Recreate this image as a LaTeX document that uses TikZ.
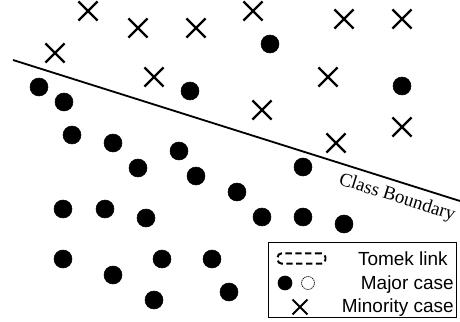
\documentclass[tikz,border=0pt]{standalone}
\usepackage{fontspec}
\setmainfont{Liberation Serif}
\setsansfont{Liberation Sans}
\usetikzlibrary{shapes.misc}

\begin{document}
\begin{tikzpicture}[x=0.025cm,y=-0.025cm,
  major/.style={black,fill=black},
  minority/.style={cross out,draw=black,line width=1.6pt,inner sep=0pt,minimum size=0.42cm},
  keytext/.style={font=\sffamily\fontsize{13.5}{16}\selectfont,anchor=base east,inner sep=0pt}]

\useasboundingbox (0,0) rectangle (460,322);

% class boundary
\draw[line width=1.3pt] (13,60) -- (460,201);
\node[font=\fontsize{13.5}{16}\selectfont,rotate=-17.5] (boundary) at (397,198) {Class Boundary};

% minority cases
\node[minority] (c1) at (88,11) {};
\node[minority] (c2) at (138,28) {};
\node[minority] (c3) at (196,28) {};
\node[minority] (c4) at (253,11) {};
\node[minority] (c5) at (344,19) {};
\node[minority] (c6) at (402,19) {};
\node[minority] (c7) at (55,53) {};
\node[minority] (c8) at (154,77) {};
\node[minority] (c9) at (328,77) {};
\node[minority] (c10) at (262,110) {};
\node[minority] (c11) at (402,127) {};
\node[minority] (c12) at (336,143) {};

% major cases
\draw[major] (270,44)  circle (6.4pt);
\draw[major] (190,91)  circle (6.4pt);
\draw[major] (402,86)  circle (6.4pt);
\draw[major] (39,87)   circle (6.4pt);
\draw[major] (64,102)  circle (6.4pt);

\draw[major] (72,135)  circle (6.4pt);
\draw[major] (113,143) circle (6.4pt);
\draw[major] (179,151) circle (6.4pt);
\draw[major] (138,168) circle (6.4pt);
\draw[major] (196,176) circle (6.4pt);
\draw[major] (237,192) circle (6.4pt);
\draw[major] (303,167) circle (6.4pt);

\draw[major] (63,209)  circle (6.4pt);
\draw[major] (105,209) circle (6.4pt);
\draw[major] (146,218) circle (6.4pt);
\draw[major] (262,217) circle (6.4pt);
\draw[major] (303,217) circle (6.4pt);
\draw[major] (344,224) circle (6.4pt);

\draw[major] (63,259)  circle (6.4pt);
\draw[major] (113,275) circle (6.4pt);
\draw[major] (162,259) circle (6.4pt);
\draw[major] (212,259) circle (6.4pt);
\draw[major] (154,300) circle (6.4pt);
\draw[major] (229,292) circle (6.4pt);

% legend
\draw[line width=0.6pt,fill=white] (268,242) rectangle (456,317);
\node[draw,line width=1.4pt,dash pattern=on 4.5pt off 2.5pt,rounded corners=3pt,
      minimum width=1.2cm,minimum height=0.26cm,inner sep=0pt] (tomek) at (301.5,258.5) {};
\draw[major] (285,283) circle (5pt);
\draw[line width=0.5pt,dash pattern=on 1pt off 0.5pt] (308,283) circle (4.6pt);
\node[minority,line width=1.4pt,minimum size=0.32cm] (ckey) at (300,307) {};

\node[keytext] (tomektext) at (448,265) {Tomek link};
\node[keytext] (majortext) at (454,289) {Major case};
\node[keytext] (minortext) at (454,312) {Minority case};

\end{tikzpicture}
\end{document}
